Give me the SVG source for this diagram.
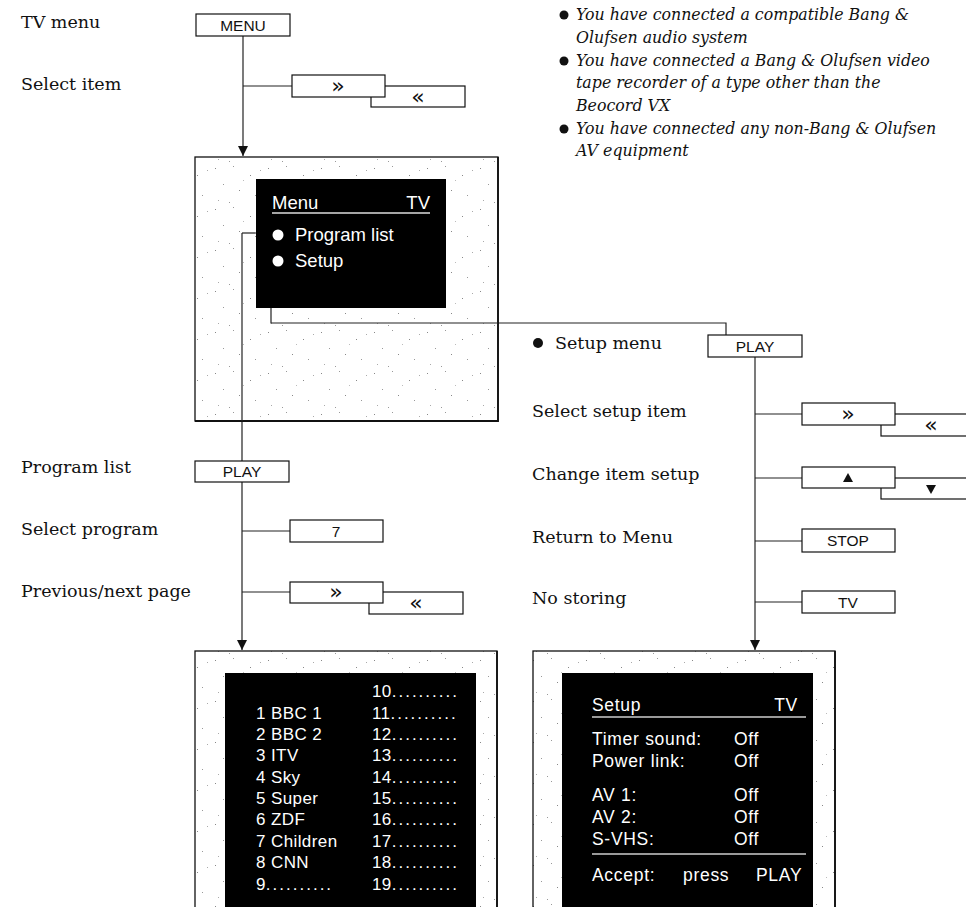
<svg xmlns="http://www.w3.org/2000/svg" width="966" height="907" viewBox="0 0 966 907">
<defs>
<style>
.lbl{font-family:"DejaVu Serif","Liberation Serif",serif;font-size:17.5px;fill:#111}
.it{font-family:"DejaVu Serif","Liberation Serif",serif;font-style:italic;font-size:15.8px;fill:#111}
.btn{fill:#fff;stroke:#111;stroke-width:1.2}
.bt{font-family:"Liberation Sans",Arial,sans-serif;font-size:15.5px;fill:#111;text-anchor:middle}
.ch{font-family:"DejaVu Sans","Liberation Sans",sans-serif;font-size:22px;fill:#111;text-anchor:middle}
.con{fill:none;stroke:#222;stroke-width:1.2}
.scr{font-family:"Liberation Sans",Arial,sans-serif;font-size:18.5px;fill:#fff}
.pl{font-family:"Liberation Sans",Arial,sans-serif;font-size:17px;fill:#fff;letter-spacing:0.4px}
.st{font-family:"Liberation Sans",Arial,sans-serif;font-size:17.5px;fill:#fff;letter-spacing:0.7px}
.frame{fill:url(#stip);stroke:#111;stroke-width:1.3}
</style>
<pattern id="stip" width="53" height="41" patternUnits="userSpaceOnUse">
<rect width="53" height="41" fill="#fff"/>
<rect x="3" y="4" width="1" height="1" fill="#888"/>
<rect x="21" y="2" width="1" height="1" fill="#999"/>
<rect x="38" y="11" width="1" height="1" fill="#888"/>
<rect x="48" y="6" width="1" height="1" fill="#aaa"/>
<rect x="11" y="20" width="1" height="1" fill="#999"/>
<rect x="27" y="26" width="1" height="1" fill="#888"/>
<rect x="43" y="31" width="1" height="1" fill="#999"/>
<rect x="6" y="36" width="1" height="1" fill="#aaa"/>
<rect x="31" y="16" width="1" height="1" fill="#bbb"/>
<rect x="17" y="38" width="1" height="1" fill="#999"/>
</pattern>
<marker id="arr" viewBox="0 0 10 10" refX="10" refY="5" markerWidth="10" markerHeight="10" markerUnits="userSpaceOnUse" orient="auto">
<path d="M0,0 L10,5 L0,10 Z" fill="#111"/>
</marker>
</defs>

<!-- Labels -->
<g id="labels">
<text class="lbl" x="21" y="28">TV menu</text>
<text class="lbl" x="21" y="90">Select item</text>
<text class="lbl" x="21" y="473">Program list</text>
<text class="lbl" x="21" y="535">Select program</text>
<text class="lbl" x="21" y="597">Previous/next page</text>
<circle cx="538" cy="343" r="5" fill="#111"/>
<text class="lbl" x="555" y="349">Setup menu</text>
<text class="lbl" x="532" y="417">Select setup item</text>
<text class="lbl" x="532" y="480">Change item setup</text>
<text class="lbl" x="532" y="543">Return to Menu</text>
<text class="lbl" x="532" y="604">No storing</text>
</g>

<!-- Italic notes -->
<g id="notes">
<circle cx="564" cy="15" r="4.5" fill="#111"/>
<text class="it" x="576" y="20">You have connected a compatible Bang &amp;</text>
<text class="it" x="576" y="43">Olufsen audio system</text>
<circle cx="564" cy="61" r="4.5" fill="#111"/>
<text class="it" x="576" y="66">You have connected a Bang &amp; Olufsen video</text>
<text class="it" x="576" y="88">tape recorder of a type other than the</text>
<text class="it" x="576" y="111">Beocord VX</text>
<circle cx="564" cy="129" r="4.5" fill="#111"/>
<text class="it" x="576" y="134">You have connected any non-Bang &amp; Olufsen</text>
<text class="it" x="576" y="156">AV equipment</text>
</g>

<!-- Connectors -->
<g id="connectors">
<path class="con" d="M243,36 V156" marker-end="url(#arr)"/>
<path class="con" d="M243,86 H292"/>
<path class="con" d="M256,233 H242 V650" marker-end="url(#arr)"/>
<path class="con" d="M242,531 H290"/>
<path class="con" d="M242,592 H290"/>
<path class="con" d="M271,308 V323 H726 V335"/>
<path class="con" d="M755,357 V650" marker-end="url(#arr)"/>
<path class="con" d="M755,414 H802"/>
<path class="con" d="M755,478 H802"/>
<path class="con" d="M755,541 H802"/>
<path class="con" d="M755,602 H802"/>
</g>

<!-- Menu screen -->
<g id="menu-screen">
<rect class="frame" x="195" y="157" width="303" height="264"/>
<path d="M195,421 H498 V157" fill="none" stroke="#111" stroke-width="1.8"/>
<rect x="256" y="179" width="190" height="129" fill="#000"/>
<text class="scr" x="272" y="209">Menu</text>
<text class="scr" x="430" y="209" text-anchor="end">TV</text>
<line x1="272" y1="213" x2="430" y2="213" stroke="#ddd" stroke-width="1.5"/>
<circle cx="278" cy="235" r="5.5" fill="#fff"/>
<text class="scr" x="295" y="241">Program list</text>
<circle cx="278" cy="261" r="5.5" fill="#fff"/>
<text class="scr" x="295" y="267">Setup</text>
<path class="con" d="M256,233 H242"/>
<path class="con" d="M242,233 V421"/>
<path class="con" d="M271,308 V323 H498"/>
</g>

<!-- Buttons -->
<g id="btn-menu"><rect class="btn" x="196" y="14" width="94" height="22"/><text class="bt" x="243" y="31">MENU</text></g>
<g id="btn-select-back"><rect class="btn" x="371" y="86" width="94" height="21"/><text class="ch" x="418" y="104">«</text></g>
<g id="btn-select-fwd"><rect class="btn" x="292" y="75" width="93" height="22"/><text class="ch" x="338" y="93">»</text></g>

<g id="btn-play-list"><rect class="btn" x="195" y="461" width="94" height="21"/><text class="bt" x="242" y="477">PLAY</text></g>
<g id="btn-7"><rect class="btn" x="290" y="520" width="93" height="22"/><text class="bt" x="336" y="537">7</text></g>
<g id="btn-page-back"><rect class="btn" x="369" y="592" width="94" height="22"/><text class="ch" x="416" y="610">«</text></g>
<g id="btn-page-fwd"><rect class="btn" x="290" y="582" width="93" height="21"/><text class="ch" x="336" y="599">»</text></g>

<g id="btn-play-setup"><rect class="btn" x="708" y="335" width="94" height="22"/><text class="bt" x="755" y="352">PLAY</text></g>
<g id="btn-setup-back"><rect class="btn" x="881" y="414" width="95" height="22"/><text class="ch" x="931" y="432">«</text></g>
<g id="btn-setup-fwd"><rect class="btn" x="802" y="403" width="93" height="22"/><text class="ch" x="848" y="421">»</text></g>
<g id="btn-down"><rect class="btn" x="881" y="478" width="95" height="21"/><path d="M926,485 L936,485 L931,494 Z" fill="#111"/></g>
<g id="btn-up"><rect class="btn" x="802" y="467" width="93" height="21"/><path d="M843,482 L853,482 L848,473 Z" fill="#111"/></g>
<g id="btn-stop"><rect class="btn" x="802" y="529" width="93" height="23"/><text class="bt" x="848" y="546">STOP</text></g>
<g id="btn-tv"><rect class="btn" x="802" y="591" width="93" height="22"/><text class="bt" x="848" y="608">TV</text></g>

<!-- Program list screen -->
<g id="program-list-screen">
<rect class="frame" x="195" y="651" width="302" height="270"/>
<path d="M497,651 V907" stroke="#111" stroke-width="1.8"/>
<rect x="225" y="673" width="251" height="240" fill="#000"/>
<text class="pl" x="256" y="719">1 BBC 1</text>
<text class="pl" x="256" y="740">2 BBC 2</text>
<text class="pl" x="256" y="761">3 ITV</text>
<text class="pl" x="256" y="783">4 Sky</text>
<text class="pl" x="256" y="804">5 Super</text>
<text class="pl" x="256" y="825">6 ZDF</text>
<text class="pl" x="256" y="847">7 Children</text>
<text class="pl" x="256" y="868">8 CNN</text>
<text class="pl" x="256" y="890">9<tspan letter-spacing="2">..........</tspan></text>
<text class="pl" x="372" y="697">10<tspan letter-spacing="2">..........</tspan></text>
<text class="pl" x="372" y="719">11<tspan letter-spacing="2">..........</tspan></text>
<text class="pl" x="372" y="740">12<tspan letter-spacing="2">..........</tspan></text>
<text class="pl" x="372" y="761">13<tspan letter-spacing="2">..........</tspan></text>
<text class="pl" x="372" y="783">14<tspan letter-spacing="2">..........</tspan></text>
<text class="pl" x="372" y="804">15<tspan letter-spacing="2">..........</tspan></text>
<text class="pl" x="372" y="825">16<tspan letter-spacing="2">..........</tspan></text>
<text class="pl" x="372" y="847">17<tspan letter-spacing="2">..........</tspan></text>
<text class="pl" x="372" y="868">18<tspan letter-spacing="2">..........</tspan></text>
<text class="pl" x="372" y="890">19<tspan letter-spacing="2">..........</tspan></text>
</g>

<!-- Setup screen -->
<g id="setup-screen">
<rect class="frame" x="533" y="651" width="302" height="270"/>
<path d="M835,651 V907" stroke="#111" stroke-width="1.8"/>
<rect x="562" y="673" width="251" height="240" fill="#000"/>
<text class="st" x="592" y="711">Setup</text>
<text class="st" x="798" y="711" text-anchor="end" letter-spacing="0">TV</text>
<line x1="592" y1="717" x2="806" y2="717" stroke="#ccc" stroke-width="1.5"/>
<text class="st" x="592" y="745">Timer  sound:</text>
<text class="st" x="734" y="745">Off</text>
<text class="st" x="592" y="767">Power  link:</text>
<text class="st" x="734" y="767">Off</text>
<text class="st" x="592" y="801">AV 1:</text>
<text class="st" x="734" y="801">Off</text>
<text class="st" x="592" y="823">AV 2:</text>
<text class="st" x="734" y="823">Off</text>
<text class="st" x="592" y="845">S-VHS:</text>
<text class="st" x="734" y="845">Off</text>
<line x1="592" y1="854" x2="806" y2="854" stroke="#ccc" stroke-width="1.5"/>
<text class="st" x="592" y="881">Accept:</text>
<text class="st" x="683" y="881">press</text>
<text class="st" x="756" y="881">PLAY</text>
</g>
</svg>
